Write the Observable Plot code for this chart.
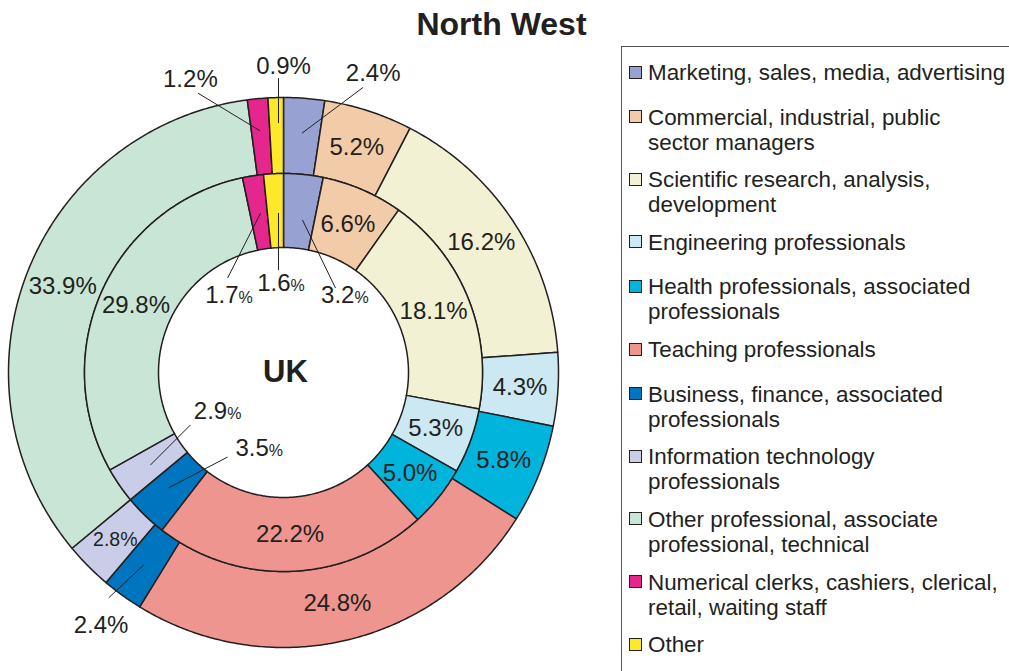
<!DOCTYPE html>
<html>
<head>
<meta charset="utf-8">
<script src="https://cdn.jsdelivr.net/npm/d3@7"></script>
<script src="https://cdn.jsdelivr.net/npm/@observablehq/plot@0.6"></script>
<style>
  html, body { margin: 0; padding: 0; background: #fff; }
  body { width: 1009px; height: 671px; overflow: hidden; position: relative;
         font-family: "Liberation Sans", Arial, sans-serif; color: #231f20; }
  #title { position: absolute; left: 0; top: 5px; width: 1003px; text-align: center;
           font-weight: bold; font-size: 32px; line-height: 38px; }
  #chart { position: absolute; left: 0; top: 45px; }
  #legend { position: absolute; left: 621px; top: 46px; width: 440px; height: 700px;
            border: 1.5px solid #555; box-sizing: border-box; padding-top: 13px; }
  .item { position: relative; padding-left: 26px; font-size: 22.4px; line-height: 25px; white-space: nowrap; }
  .sw { position: absolute; left: 7px; top: 5.5px; width: 11px; height: 11px; border: 1.5px solid #231f20; }
</style>
</head>
<body>
<div id="title">North West</div>
<div id="chart"></div>
<div id="legend"></div>
<script>
// ---------------- data ----------------
const legendLabels = [
  "Marketing, sales, media, advertising",
  "Commercial, industrial, public\nsector managers",
  "Scientific research, analysis,\ndevelopment",
  "Engineering professionals",
  "Health professionals, associated\nprofessionals",
  "Teaching professionals",
  "Business, finance, associated\nprofessionals",
  "Information technology\nprofessionals",
  "Other professional, associate\nprofessional, technical",
  "Numerical clerks, cashiers, clerical,\nretail, waiting staff",
  "Other"
];
const categories = legendLabels.map(s => s.replace("\n", " "));
const colors = ["#98a2d2", "#f2cca8", "#f3f1d4", "#cbe8f3", "#00b4dc", "#ee958f",
                "#0075bf", "#c9cde8", "#c9e5d6", "#e4268d", "#fde92a"];
const northWest = [2.4, 5.2, 16.2, 4.3, 5.8, 24.8, 2.4, 2.8, 33.9, 1.2, 0.9]; // outer ring
const uk        = [3.2, 6.6, 18.1, 5.3, 5.0, 22.2, 3.5, 2.9, 29.8, 1.7, 1.6];  // inner ring
const centerLabel = "UK";

// ---------------- layout ----------------
const W = 600, H = 626, CX = 283, CY = 327;
const R_IN = 125, R_MID = 199, R_OUT = 275;
// label placement overrides, polar [angleDeg clockwise from top, radius]
const outerLayout = {
  0:  {text: [16.7, 312], leader: [[4.4, 240], [15.6, 296]]},
  6:  {text: [215.8, 312], leader: [[216, 238], [217.8, 285]]},
  7:  {size: 19.5},
  9:  {text: [342.4, 308], leader: [[354.4, 243], [343, 292]]},
  10: {text: [0, 306], leader: [[358.85, 249.5], [359.03, 294.5]]}
};
const innerLayout = {
  0:  {junction: [42.5, 105], leader: [[7.1, 153.7], [31.6, 99.2]]},
  6:  {junction: [191, 77.2], leader: [[224.9, 163], [213.5, 101.4]]},
  7:  {junction: [235.2, 68.6], leader: [[235.2, 162], [240.6, 106.8]]},
  9:  {junction: [329.9, 89.6], leader: [[351.8, 161], [329.4, 109.8]]},
  10: {junction: [4.5, 89.8], leader: [[358.2, 159.6], [357.2, 102.6]]}
};

// ---------------- build ----------------
const fmt = d3.format(".1f");
const pie = d3.pie().sort(null).value(d => d);
const rad = deg => deg * Math.PI / 180;
const polar = ([deg, r]) => ({x: r * Math.sin(rad(deg)), y: r * Math.cos(rad(deg))});

function ring(values, r0, r1, name) {
  return pie(values).map((a, i) => ({name, i, category: categories[i], value: values[i],
    a0: a.startAngle, a1: a.endAngle, r0, r1}));
}
const slices = [...ring(northWest, R_MID, R_OUT, "NW"), ...ring(uk, R_IN, R_MID, "UK")];

const pts = [];
for (const s of slices) {
  const n = Math.max(2, Math.ceil((s.a1 - s.a0) / (Math.PI / 360)));
  const key = s.name + s.i;
  for (let k = 0; k <= n; k++) {
    const a = s.a0 + (s.a1 - s.a0) * k / n;
    pts.push({key, category: s.category, x: s.r1 * Math.sin(a), y: s.r1 * Math.cos(a)});
  }
  for (let k = n; k >= 0; k--) {
    const a = s.a0 + (s.a1 - s.a0) * k / n;
    pts.push({key, category: s.category, x: s.r0 * Math.sin(a), y: s.r0 * Math.cos(a)});
  }
}

const bigLabels = [], smallLabels = [], splitLabels = [], leaders = [];
for (const s of slices) {
  const lay = (s.name === "NW" ? outerLayout : innerLayout)[s.i] || {};
  const midDeg = ((s.a0 + s.a1) / 2) * 180 / Math.PI;
  const midR = (s.r0 + s.r1) / 2;
  if (lay.leader) {
    const p1 = polar(lay.leader[0]), p2 = polar(lay.leader[1]);
    leaders.push({x1: p1.x, y1: p1.y, x2: p2.x, y2: p2.y});
  }
  if (lay.junction) {
    const p = polar(lay.junction);
    splitLabels.push({...p, num: fmt(s.value)});
  } else {
    const p = lay.text ? polar(lay.text) : polar([midDeg, midR]);
    const d = {...p, label: fmt(s.value) + "%"};
    (lay.size ? smallLabels : bigLabels).push(d);
  }
}

const ink = "#231f20";
const chart = Plot.plot({
  width: W, height: H,
  marginTop: 0, marginRight: 0, marginBottom: 0, marginLeft: 0,
  x: {domain: [-CX, W - CX], axis: null},
  y: {domain: [-(H - CY), CY], axis: null},
  color: {domain: categories, range: colors},
  style: {fontFamily: "'Liberation Sans', Arial, sans-serif", color: ink, background: "transparent", overflow: "visible"},
  marks: [
    Plot.line(pts, {x: "x", y: "y", z: "key", fill: "category", stroke: ink, strokeWidth: 1.5, curve: "linear-closed"}),
    Plot.link(leaders, {x1: "x1", y1: "y1", x2: "x2", y2: "y2", stroke: ink, strokeWidth: 1}),
    Plot.text(bigLabels, {x: "x", y: "y", text: "label", fontSize: 24, fill: ink}),
    Plot.text(smallLabels, {x: "x", y: "y", text: "label", fontSize: 19.5, fill: ink}),
    Plot.text(splitLabels, {x: "x", y: "y", text: "num", fontSize: 24, textAnchor: "end", fill: ink}),
    Plot.text(splitLabels, {x: "x", y: "y", text: () => "%", fontSize: 16, textAnchor: "start", dy: 2.6, fill: ink}),
    Plot.text([centerLabel], {x: () => 2, y: () => 0, text: d => d, fontSize: 31, fontWeight: "bold", fill: ink})
  ]
});
document.getElementById("chart").appendChild(chart);

// legend
const legend = document.getElementById("legend");
legendLabels.forEach((lab, i) => {
  const lines = lab.split("\n");
  const item = document.createElement("div");
  item.className = "item";
  item.style.height = (lines.length === 1 ? 44.5 : 62.7) + "px";
  const sw = document.createElement("div");
  sw.className = "sw";
  sw.style.background = colors[i];
  item.appendChild(sw);
  lines.forEach(l => { const d = document.createElement("div"); d.textContent = l; item.appendChild(d); });
  legend.appendChild(item);
});
</script>
</body>
</html>
